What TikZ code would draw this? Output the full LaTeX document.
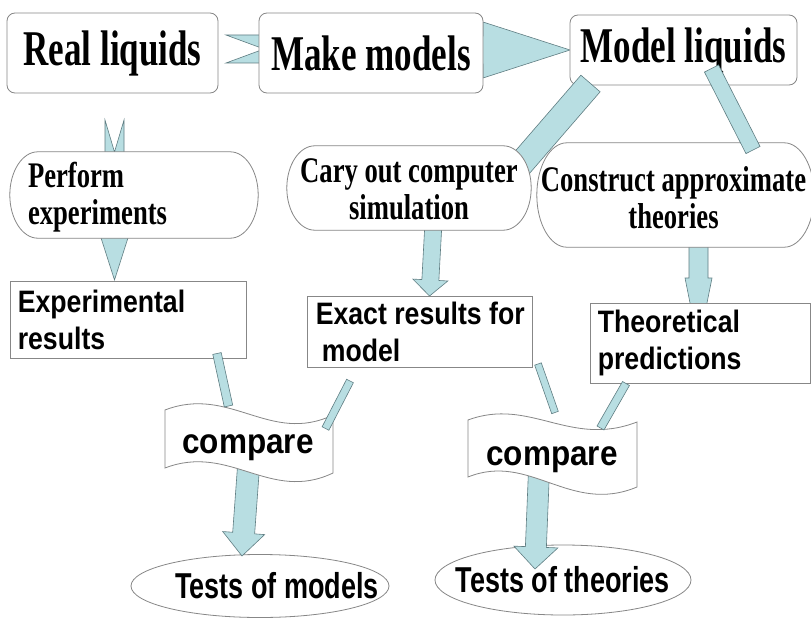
\documentclass[tikz,border=0pt]{standalone}
\usepackage{fontspec}
\usetikzlibrary{calc,shapes.geometric}

% condensed bold faces used on the chart
\newfontfamily\topfont{Liberation Serif}[FakeStretch=0.70]
\newfontfamily\midfont{Liberation Serif}[FakeStretch=0.74]
\newfontfamily\boxfont{Liberation Sans}[FakeStretch=0.86]
\newfontfamily\cmpfont{Liberation Sans}[FakeStretch=0.90]
\newfontfamily\testfont{Liberation Sans}[FakeStretch=0.75]

\definecolor{arrowblue}{RGB}{184,222,226}
\definecolor{arrowedge}{RGB}{95,125,130}
\definecolor{boxedge}{RGB}{135,135,135}

\tikzset{
  flowfill/.style={fill=arrowblue, draw=arrowedge, line width=0.6pt, line join=miter},
  boxline/.style={draw=boxedge, line width=0.8pt},
  topbox/.style={boxline, fill=white, rounded corners=8pt, inner sep=0pt,
    font=\topfont\bfseries\fontsize{50}{54}\selectfont},
  frame/.style={rectangle, draw=none, inner sep=0pt},
  rectbox/.style={rectangle, boxline, fill=white, inner sep=0pt},
  midlabel/.style={inner sep=0pt, font=\midfont\bfseries\fontsize{36}{37}\selectfont},
  boxlabel/.style={inner sep=0pt, align=left, font=\boxfont\bfseries\fontsize{31}{37}\selectfont},
  cmplabel/.style={inner sep=0pt, font=\cmpfont\bfseries\fontsize{35}{38}\selectfont},
  testell/.style={ellipse, boxline, fill=white, inner sep=0pt,
    font=\testfont\bfseries\fontsize{36}{38}\selectfont},
}

% block arrow: start, tip, half shaft width, half head width, head length
\newcommand\blockarrow[5]{%
  \filldraw[flowfill] ($(#1)!#3!90:(#2)$) -- ($(#2)!#5!(#1)!#3!-90:(#1)$)
    -- ($(#2)!#5!(#1)!#4!-90:(#1)$) -- (#2) -- ($(#2)!#5!(#1)!#4!90:(#1)$)
    -- ($(#2)!#5!(#1)!#3!90:(#1)$) -- ($(#1)!#3!-90:(#2)$) -- cycle;}
% block arrow with a notched tail; #6 is the notch depth
\newcommand\notcharrow[6]{%
  \filldraw[flowfill] ($(#1)!#3!90:(#2)$) -- ($(#2)!#5!(#1)!#3!-90:(#1)$)
    -- ($(#2)!#5!(#1)!#4!-90:(#1)$) -- (#2) -- ($(#2)!#5!(#1)!#4!90:(#1)$)
    -- ($(#2)!#5!(#1)!#3!90:(#1)$) -- ($(#1)!#3!-90:(#2)$) -- ($(#1)!#6!(#2)$) -- cycle;}
% plain band between two points, #3 is half its width
\newcommand\flowband[3]{%
  \filldraw[flowfill] ($(#1)!#3!90:(#2)$) -- ($(#2)!#3!-90:(#1)$)
    -- ($(#2)!#3!90:(#1)$) -- ($(#1)!#3!-90:(#2)$) -- cycle;}
% terminator outline round a frame node: node, end x radius, half height
\newcommand\stadiumoutline[3]{%
  \filldraw[boxline, fill=white] ([xshift=#2pt]#1.north west) -- ([xshift=-#2pt]#1.north east)
    .. controls +(0.5523*#2,0) and +(0,-0.5523*#3) .. (#1.east)
    .. controls +(0,0.5523*#3) and +(0.5523*#2,0) .. ([xshift=-#2pt]#1.south east)
    -- ([xshift=#2pt]#1.south west)
    .. controls +(-0.5523*#2,0) and +(0,0.5523*#3) .. (#1.west)
    .. controls +(0,-0.5523*#3) and +(-0.5523*#2,0) .. ([xshift=#2pt]#1.north west) -- cycle;}

\begin{document}
\begin{tikzpicture}[x=1pt, y=-1pt]
\fill[white] (0,0) rectangle (811,618);
\useasboundingbox (0,0) rectangle (811,618);

% ---- arrow ends ----
\coordinate (rmA) at (226,49);     \coordinate (rmB) at (300,49);
\coordinate (mmA) at (440,50);     \coordinate (mmB) at (570,50);
\coordinate (mcA) at (590.5,83.5); \coordinate (mcB) at (520,165);
\coordinate (mxA) at (711.5,68.5); \coordinate (mxB) at (753,150);
\coordinate (peA) at (114.5,120);  \coordinate (peB) at (114.5,280);
\coordinate (ceA) at (433.5,222);  \coordinate (ceB) at (429.5,296);
\coordinate (ctA) at (698.5,240);  \coordinate (ctB) at (698.5,345);
\coordinate (elA) at (217,353.5);  \coordinate (elB) at (228.5,406);
\coordinate (xlA) at (350,381);    \coordinate (xlB) at (325.5,428.5);
\coordinate (xrA) at (538,364);    \coordinate (xrB) at (555,412.5);
\coordinate (trA) at (626,383.5);  \coordinate (trB) at (600.5,428);
\coordinate (lmA) at (249,460);    \coordinate (lmB) at (242,556);
\coordinate (rtA) at (539,470);    \coordinate (rtB) at (535,569);

% ---- top row ----
\notcharrow{rmA}{rmB}{14pt}{20pt}{20pt}{38pt}
\blockarrow{mmA}{mmB}{14pt}{28pt}{87pt}
\node[topbox, minimum width=211pt, minimum height=80pt] (real)  at (112.5,53) {Real liquids};
\node[topbox, minimum width=224pt, minimum height=80pt] (make)  at (371,53)   {Make models};
\node[topbox, minimum width=227pt, minimum height=70pt] (model) at (683.5,50) {Model liquids};
\flowband{mcA}{mcB}{12.7pt}

% ---- arrows running behind the second row ----
\notcharrow{peA}{peB}{9.5pt}{16pt}{50pt}{32pt}
\blockarrow{ceA}{ceB}{8.5pt}{17.5pt}{16pt}
\blockarrow{ctA}{ctB}{9.5pt}{13.5pt}{67pt}

% ---- second row ----
\node[frame, minimum width=248pt, minimum height=86pt]  (perform)   at (134,195)   {};
\node[frame, minimum width=244pt, minimum height=84pt]  (cary)      at (409,188)   {};
\node[frame, minimum width=277pt, minimum height=104pt] (construct) at (675.5,195) {};
\stadiumoutline{perform}{28}{43}
\stadiumoutline{cary}{28}{42}
\stadiumoutline{construct}{30}{52}
\node[midlabel, anchor=west, align=left] (performtxt) at ([xshift=18pt,yshift=-2pt]perform.west) {Perform\\experiments};
\node[midlabel, align=center] (carytxt) at ([yshift=-1pt]cary.center) {Cary out computer\\simulation};
\node[midlabel, align=center] (constructtxt) at ([xshift=-2pt,yshift=-3pt]construct.center) {Construct approximate\\theories};
\flowband{mxA}{mxB}{7.9pt}

% ---- third row ----
\node[rectbox, minimum width=236pt, minimum height=77pt] (exp)   at (128,319.5) {};
\node[rectbox, minimum width=225pt, minimum height=71pt] (exact) at (419.5,331.5) {};
\node[rectbox, minimum width=220pt, minimum height=80pt] (theo)  at (700,343) {};
\node[boxlabel, anchor=west] (exptxt)   at ([xshift=8pt]exp.west)   {Experimental\\results};
\node[boxlabel, anchor=west] (exacttxt) at ([xshift=9pt]exact.west) {Exact results for\\\hspace*{6pt}model};
\node[boxlabel, anchor=west] (theotxt)  at ([xshift=8pt]theo.west)  {Theoretical\\predictions};

% ---- results ----
\node[testell, minimum width=258pt, minimum height=63pt] (tm) at (260,586)
  {\makebox[0pt]{\hspace*{34pt}Tests of models}};
\node[testell, minimum width=256pt, minimum height=70pt] (tt) at (563,580)
  {\makebox[0pt]{Tests of theories}};
\blockarrow{lmA}{lmB}{11pt}{21pt}{23pt}
\blockarrow{rtA}{rtB}{10.5pt}{22pt}{22pt}

% ---- comparison banners ----
\filldraw[boxline, fill=white] (165,410) .. controls (230,385) and (270,445) .. (333,415)
  -- (333,473) .. controls (270,503) and (230,443) .. (165,468) -- cycle;
\filldraw[boxline, fill=white] (468,420) .. controls (530,397) and (570,448) .. (637,422)
  -- (637,487) .. controls (570,515) and (530,452) .. (468,477) -- cycle;
\node[cmplabel] (cmpL) at (248,448) {compare};
\node[cmplabel] (cmpR) at (552,460) {compare};

% ---- thin feeds into the banners ----
\flowband{elA}{elB}{4.3pt}
\flowband{xlA}{xlB}{3.8pt}
\flowband{xrA}{xrB}{3.5pt}
\flowband{trA}{trB}{4pt}
\end{tikzpicture}
\end{document}
